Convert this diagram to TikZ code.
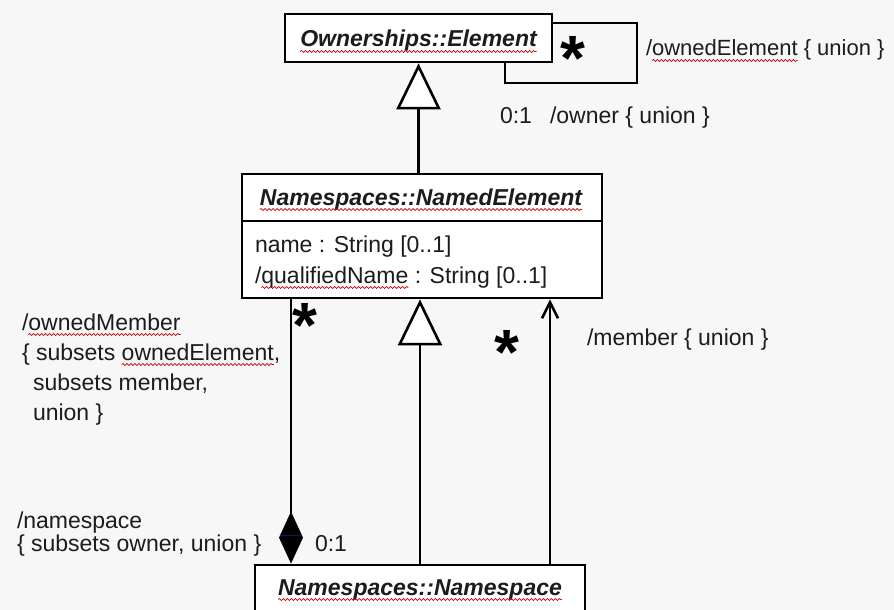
\documentclass[tikz,border=0pt]{standalone}
\usepackage{fontspec}
\setmainfont{Liberation Sans}
\usetikzlibrary{arrows.meta,calc,decorations.pathmorphing}

\definecolor{bgcol}{RGB}{247,247,247}
\definecolor{txt}{RGB}{28,28,28}
\definecolor{navyline}{RGB}{20,20,110}

\begin{document}
\begin{tikzpicture}[x=1pt,y=-1pt,
  line width=2.6pt,
  umlbox/.style={draw=black, fill=white, line width=2.8pt, inner sep=0pt},
  title/.style={font=\fontsize{23}{28}\selectfont\bfseries\itshape, text=txt, inner sep=0pt, outer sep=0pt, anchor=base},
  lbl/.style={font=\fontsize{23}{28}\selectfont, text=txt, inner sep=0pt, outer sep=0pt, anchor=base west},
  mult/.style={font=\fontsize{64}{64}\selectfont\bfseries, text=black, inner sep=0pt, anchor=base},
  gen/.style={-{Triangle[fill=white, length=46pt, width=44pt]}},
  nav/.style={-{Straight Barb[length=16pt, width=16pt]}},
  comp/.style={-{Diamond[length=52pt, width=24pt, fill=black]}},
  wave/.style={draw=red!80!black, line width=0.7pt,
    decorate, decoration={snake, segment length=4pt, amplitude=1pt}}
]
\fill[bgcol] (0,0) rectangle (894,610);
\useasboundingbox (0,0) rectangle (894,610);

% spell-check wave under a text node
\newcommand\wavy[1]{\draw[wave] ($(#1.base west)+(0,4.5)$) -- ($(#1.base east)+(0,4.5)$);}

% classes
\node[umlbox, minimum width=267pt, minimum height=48pt] (own) at (418.5,38) {};
\node[umlbox, minimum width=360pt, minimum height=124pt] (nel) at (422,236) {};
\node[umlbox, minimum width=330pt, minimum height=56pt] (ns) at (420,593) {};

\coordinate (div) at (0,221);
\draw[line width=2.8pt] (nel.west |- div) -- (nel.east |- div);

\node[title] (own-t) at (418.5,47) {Ownerships::Element};
\node[title] (nel-t) at (421,205) {Namespaces::NamedElement};
\node[title] (ns-t) at (420,595) {Namespaces::Namespace};
\wavy{own-t} \wavy{nel-t} \wavy{ns-t}

\node[lbl] (attr1) at (255,252) {name : String [0..1]};
\node[lbl] (attr2a) at (255,283) {/};
\node[lbl] (attr2b) at (attr2a.base east) {qualifiedName};
\node[lbl] (attr2c) at (attr2b.base east) {\ : String [0..1]};
\wavy{attr2b}

% ownership self association
\coordinate (lp1) at (637,23);
\coordinate (lp2) at (505,83);
\draw (own.east |- lp1) -- (lp1) |- (lp2) -- (own.south -| lp2);
\node[mult] (m-own) at (573,81) {*};
\begin{scope}[lbl/.append style={font=\fontsize{22}{28}\selectfont}]
\node[lbl] (r-owned-a) at (646,56) {/};
\node[lbl] (r-owned-b) at (r-owned-a.base east) {ownedElement};
\node[lbl] (r-owned-c) at (r-owned-b.base east) {\ \{ union \}};
\end{scope}
\wavy{r-owned-b}
\node[lbl] (m-owner) at (500,123) {0:1};
\node[lbl] (r-owner) at (550,123) {/owner \{ union \}};

% generalizations
\draw[gen] (nel.north -| own.south) -- (own.south);
\draw[gen] (ns.north) -- (ns.north |- nel.south);

% member association
\coordinate (mx) at (550,0);
\draw[nav] (ns.north -| mx) -- (nel.south -| mx);
\node[mult] (m-member) at (507,374) {*};
\node[lbl] (r-member) at (587,345) {/member \{ union \}};

% owned member composition
\coordinate (cx) at (291,0);
\draw[comp] (nel.south -| cx) -- (ns.north -| cx);
\draw[navyline, line width=1.3pt] ($(ns.north -| cx)+(-11,-28)$) -- ($(ns.north -| cx)+(11,-28)$);
\node[mult] (m-om) at (305,347) {*};
\node[lbl] (om1a) at (22,330) {/};
\node[lbl] (om1b) at (om1a.base east) {ownedMember};
\wavy{om1b}
\node[lbl] (om2a) at (22,360) {\{ subsets\ \null};
\node[lbl] (om2b) at (om2a.base east) {ownedElement};
\node[lbl] (om2c) at (om2b.base east) {,};
\wavy{om2b}
\node[lbl] (om3) at (33,390) {subsets member,};
\node[lbl] (om4) at (33,420) {union \}};

\node[lbl] (nsp1) at (17,528) {/namespace};
\node[lbl] (nsp2) at (17,551) {\{ subsets owner, union \}};
\node[lbl] (m-nsp) at (315,551) {0:1};
\end{tikzpicture}
\end{document}
